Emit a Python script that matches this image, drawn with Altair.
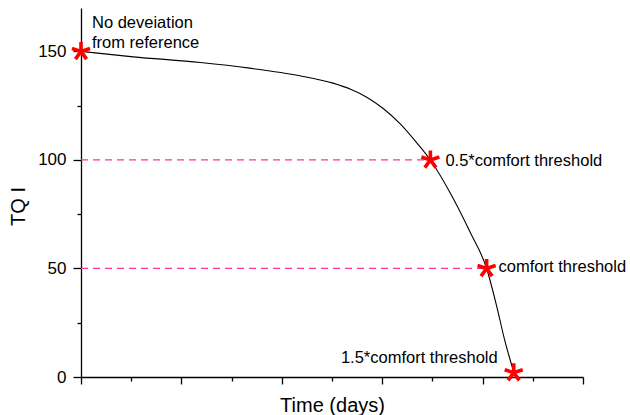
import altair as alt
import pandas as pd

# Curve (time in days, TQI)
curve_time = [0.0, 0.52, 1.19, 1.68, 2.18, 2.51, 2.68, 2.85, 3.01, 3.18, 3.33, 3.48, 3.71, 3.88, 4.04, 4.14, 4.22, 4.31]
curve_tqi = [150.0, 147.5, 144.9, 142.3, 138.8, 135.4, 132.7, 128.8, 123.7, 116.6, 108.7, 100.0, 82.0, 66.3, 50.0, 32.7, 17.0, 2.3]

# Marked points
mark_time = [0.0, 3.48, 4.04, 4.31]
mark_tqi = [150, 100, 50, 2]
mark_label = ["No deveiation\nfrom reference", "0.5*comfort threshold", "comfort threshold", "1.5*comfort threshold"]

# Dashed guides at the thresholds
guide_tqi = [100, 50]
guide_time = [3.48, 4.04]

x_ticks = [0, 0.5, 1, 1.5, 2, 2.5, 3, 3.5, 4, 4.5, 5]
y_ticks = [0, 25, 50, 75, 100, 125, 150]

FONT = "Liberation Sans"
curve_df = pd.DataFrame({"time": curve_time, "tqi": curve_tqi})
mark_df = pd.DataFrame({"time": mark_time, "tqi": mark_tqi, "label": mark_label})
guide_df = pd.DataFrame({"t0": [curve_time[0]] * len(guide_tqi), "time": guide_time, "tqi": guide_tqi})

xs = alt.Scale(domain=[0, 5], nice=False, zero=False)
ys = alt.Scale(domain=[0, 170], nice=False, zero=False)

common_axis = dict(domainColor="black", domainWidth=1.3, tickColor="black", tickWidth=1.3,
                   labelFont=FONT, labelFontSize=17, labelColor="black", grid=False,
                   titleFont=FONT, titleFontWeight="normal", titleColor="black", titleFontSize=20)

x_axis = alt.Axis(values=x_ticks, labels=False, orient="bottom",
                  tickSize={"condition": {"test": "datum.value % 1 === 0", "value": 7}, "value": 4},
                  title="Time (days)", titleX=251, titleY=28, titleBaseline="middle",
                  titleAlign="center", **common_axis)
y_axis = alt.Axis(values=y_ticks, orient="left", labelPadding=7,
                  tickSize={"condition": {"test": "datum.value % 50 === 0", "value": 8}, "value": 4},
                  labelExpr="datum.value % 50 === 0 ? datum.label : ''",
                  title="TQ I", titleX=-63, titleY=198, titleAngle=-90, titleBaseline="middle",
                  titleAlign="center", **common_axis)

guides = alt.Chart(guide_df).mark_rule(color="#ff3399", strokeWidth=1.3, strokeDash=[7, 5]).encode(
    x=alt.X("t0:Q", scale=xs, axis=x_axis),
    x2="time:Q",
    y=alt.Y("tqi:Q", scale=ys, axis=y_axis),
)

line = alt.Chart(curve_df).mark_line(color="black", strokeWidth=1.1, interpolate="monotone").encode(
    x="time:Q",
    y="tqi:Q",
)

STAR = "M0,0L0,-1M0,0L0.951,-0.309M0,0L0.588,0.809M0,0L-0.588,0.809M0,0L-0.951,-0.309"
stars = alt.Chart(mark_df).mark_point(shape=STAR, filled=False, stroke="#ff0000", strokeWidth=3.6,
                                      size=361, opacity=1).encode(
    x="time:Q",
    y="tqi:Q",
)

def label_layer(idx, align, dx, dy):
    return alt.Chart(mark_df.iloc[[idx]]).mark_text(
        font=FONT, fontSize=16.5, color="black", align=align, baseline="middle",
        dx=dx, dy=dy, lineBreak="\n", lineHeight=20,
    ).encode(
        x="time:Q",
        y="tqi:Q",
        text="label:N",
    )

labels = [
    label_layer(0, "left", 11, -28),
    label_layer(1, "left", 15, 1),
    label_layer(2, "left", 12, -1),
    label_layer(3, "right", -16, -15),
]

chart = alt.layer(guides, line, stars, *labels).properties(
    width=502, height=369, autosize="none", background="white",
    padding={"left": 81, "top": 8, "right": 47, "bottom": 38},
).configure_view(strokeWidth=0, stroke="transparent")

chart.save("out.html", embed_options={"renderer": "svg", "actions": False})
